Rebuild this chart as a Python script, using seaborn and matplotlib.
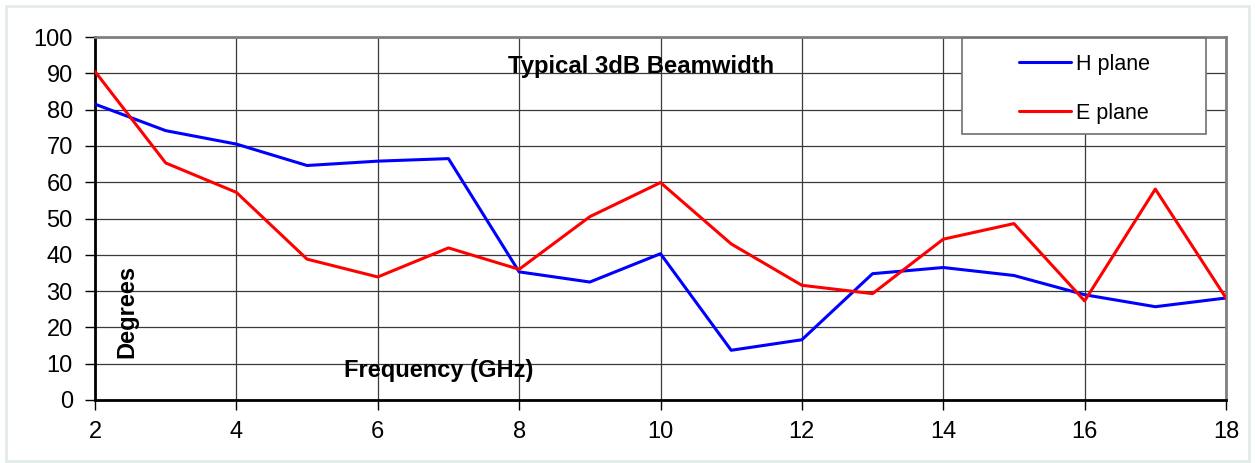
import pandas as pd
import seaborn as sns
import matplotlib.pyplot as plt
from matplotlib.patches import Rectangle
from matplotlib.lines import Line2D

# Frequenz in GHz
freq = [2, 3, 4, 5, 6, 7, 8, 9, 10, 11, 12, 13, 14, 15, 16, 17, 18]
h_plane = [81.5, 74.2, 70.5, 64.6, 65.8, 66.5, 35.3, 32.5, 40.3, 13.7, 16.6,
           34.8, 36.5, 34.3, 29.0, 25.7, 28.1]
e_plane = [90.5, 65.3, 57.2, 38.8, 33.9, 41.9, 36.0, 50.5, 59.9, 43.0, 31.6,
           29.3, 44.3, 48.6, 27.3, 58.1, 28.1]
series_names = ['H plane', 'E plane']
x_ticks = [2, 4, 6, 8, 10, 12, 14, 16, 18]
y_ticks = [0, 10, 20, 30, 40, 50, 60, 70, 80, 90, 100]

df = pd.DataFrame({
    'freq': freq * 2,
    'deg': h_plane + e_plane,
    'plane': [series_names[0]] * len(freq) + [series_names[1]] * len(freq),
})

sns.set_theme(style='white')
plt.rcParams['font.family'] = ['Liberation Sans', 'DejaVu Sans']
plt.rcParams['text.color'] = 'black'

fig = plt.figure(figsize=(12.55, 4.63), dpi=100)
ax = fig.add_axes([95 / 1255, 1 - 400 / 463, 1131 / 1255, 363 / 463])

colors = {'H plane': '#0000ff', 'E plane': '#ff0000'}
sns.lineplot(data=df, x='freq', y='deg', hue='plane', palette=colors,
             linewidth=2.2, ax=ax, legend=False, zorder=3)

ax.set_xlim(2, 18)
ax.set_ylim(0, 100)
ax.set_xticks(x_ticks)
ax.set_yticks(y_ticks)
ax.grid(True, color='#3a3a3a', linewidth=0.9, zorder=0)
ax.tick_params(axis='both', labelsize=17, colors='black', direction='out',
               length=7, width=1, bottom=True, left=True)
ax.tick_params(axis='y', pad=9)
ax.tick_params(axis='x', pad=8)
ax.set_xlabel('')
ax.set_ylabel('')

for s in ['left', 'bottom']:
    ax.spines[s].set_color('black')
    ax.spines[s].set_linewidth(2)
for s in ['top', 'right']:
    ax.spines[s].set_color('#808080')
    ax.spines[s].set_linewidth(2)

# Beschriftungen im Diagramm
ax.text(0.483, 0.918, 'Typical 3dB Beamwidth', transform=ax.transAxes,
        ha='center', va='center', fontsize=17.2, fontweight='bold', color='black')
ax.text(0.0285, 0.243, 'Degrees', transform=ax.transAxes, rotation=90,
        ha='center', va='center', fontsize=17, fontweight='bold', color='black')
ax.text(0.304, 0.08, 'Frequency (GHz)', transform=ax.transAxes,
        ha='center', va='center', fontsize=17, fontweight='bold', color='black')

# Legende
ax.add_patch(Rectangle(((962 - 95) / 1131, (400 - 134) / 363), 244 / 1131, 96 / 363,
                       transform=ax.transAxes, facecolor='white',
                       edgecolor='#707070', linewidth=1.2, zorder=4))
handles = [Line2D([], [], color=colors[n], linewidth=2.2) for n in series_names]
leg = ax.legend(handles, series_names, frameon=False, fontsize=15.5,
                loc='upper left', bbox_to_anchor=((1019 - 95) / 1131, (400 - 54) / 363),
                borderpad=0, borderaxespad=0, handlelength=2.4,
                handletextpad=0.25, labelspacing=1.29)
for t in leg.get_texts():
    t.set_color('black')
leg.set_zorder(5)

# Rahmen um die Grafik
fig.patches.append(Rectangle((6 / 1255, 2 / 463), 1243 / 1255, 455 / 463,
                             transform=fig.transFigure, fill=False,
                             edgecolor='#e3ece7', linewidth=2))

fig.savefig('out.png', dpi=100)
